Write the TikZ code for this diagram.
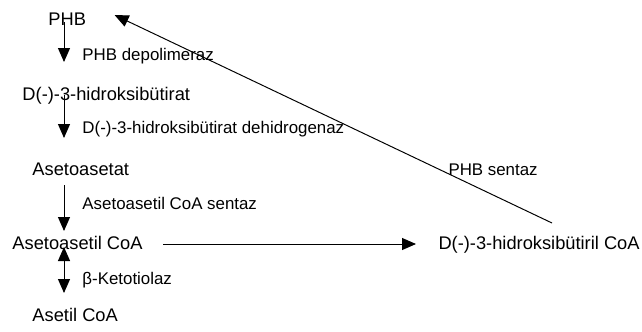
\documentclass[tikz,border=0pt]{standalone}
\usepackage{fontspec}
\setmainfont{Liberation Sans}
\usepackage{tikz}
\usetikzlibrary{arrows.meta,calc}

\begin{document}
\begin{tikzpicture}[x=0.025cm, y=-0.025cm, >={Triangle[length=0.35cm, width=0.3cm]},
    line width=0.7pt,
    mol/.style={anchor=base west, inner sep=0pt, font=\fontsize{13}{15}\selectfont},
    enz/.style={anchor=base west, inner sep=0pt, font=\fontsize{12}{14}\selectfont}]
    \useasboundingbox (0,0) rectangle (642,331);
    \coordinate (axis) at (64,0);

    % Metabolites
    \node[mol] (phb) at (48,25) {PHB};
    \node[mol] (hb) at (22,100) {D(-)-3-hidroksibütirat};
    \node[mol] (aa) at (32,175) {Asetoasetat};
    \node[mol] (aacoa) at (12,249) {Asetoasetil CoA};
    \node[mol] (acoa) at (32,321) {Asetil CoA};
    \node[mol] (hbcoa) at (438,249) {D(-)-3-hidroksibütiril CoA};

    % Enzymes
    \node[enz] (e1) at (82,60) {PHB depolimeraz};
    \node[enz] (e2) at (82,133) {D(-)-3-hidroksibütirat dehidrogenaz};
    \node[enz] (e3) at (82,209) {Asetoasetil CoA sentaz};
    \node[enz] (e4) at (82,284) {β-Ketotiolaz};
    \node[enz] (e5) at (448,175) {PHB sentaz};

    % Degradation steps
    \draw[->] ($(phb.base -| axis)+(0,-3)$) -- ($(hb.base -| axis)+(0,-38)$);
    \draw[->] ($(hb.base -| axis)+(0,-5)$) -- ($(aa.base -| axis)+(0,-37)$);
    \draw[->] ($(aa.base -| axis)+(0,10)$) -- ($(aacoa.base -| axis)+(0,-18)$);
    \draw[<->] ($(aacoa.base -| axis)+(0,-2)$) -- ($(acoa.base -| axis)+(0,-28)$);

    % Synthesis
    \draw[->] ($(aacoa.base east)+(20,-5)$) -- ($(hbcoa.base west)+(-22,-5)$);
    \draw[->] ($(hbcoa.base west)+(114,-26)$) -- ($(phb.base east)+(28,-10)$);
\end{tikzpicture}
\end{document}
